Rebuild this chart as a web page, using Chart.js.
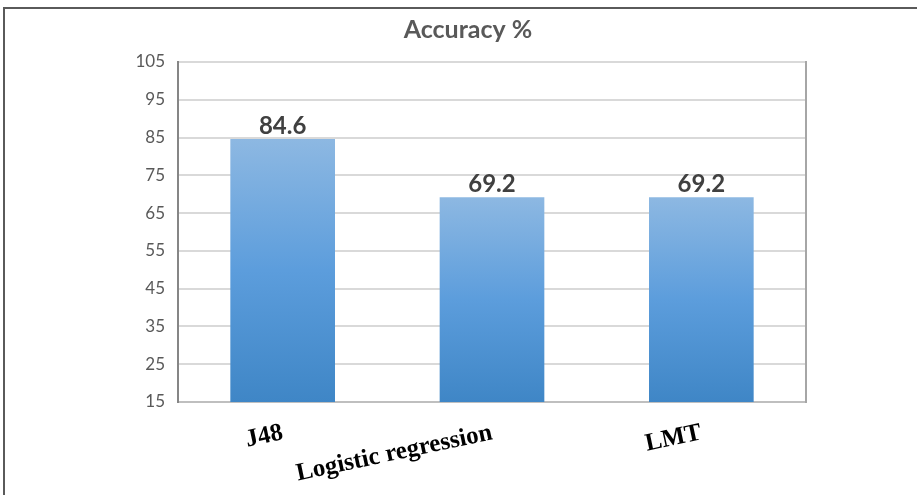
<!DOCTYPE html>
<html>
<head>
<meta charset="utf-8">
<script src="https://cdn.jsdelivr.net/npm/chart.js@4.4.0/dist/chart.umd.min.js"></script>
<style>
  body { margin: 0; background: #fff; }
  #frame { position: absolute; left: 3px; top: 7px; width: 960px; height: 540px; border: 2px solid #5a5a5a; }
  #wrap { position: absolute; left: 0; top: 0; width: 917px; height: 495px; }
</style>
</head>
<body>
<div id="frame"></div>
<div id="wrap"><canvas id="chart" width="917" height="495"></canvas></div>
<script>
// chart data
const categories = ['J48', 'Logistic regression', 'LMT'];
const accuracy = [84.6, 69.2, 69.2];
const yMin = 15;
const yMax = 105;
const yStep = 10;

// value labels above each bar
const valueLabels = {
    id: 'valueLabels',
    afterDatasetsDraw(chart) {
        const ctx = chart.ctx;
        const meta = chart.getDatasetMeta(0);
        ctx.save();
        ctx.font = 'bold 24px Lato';
        ctx.fillStyle = '#404040';
        ctx.textAlign = 'center';
        ctx.textBaseline = 'bottom';
        meta.data.forEach((bar, i) => {
            ctx.fillText(accuracy[i].toFixed(1), bar.x, bar.y - 1);
        });
        ctx.restore();
    }
};

function barFill(context) {
    const chart = context.chart;
    const a = chart.chartArea;
    if (!a) return '#5b9bd5';
    const top = chart.scales.y.getPixelForValue(accuracy[context.dataIndex]);
    const g = chart.ctx.createLinearGradient(0, top, 0, a.bottom);
    g.addColorStop(0, '#8db8e2');
    g.addColorStop(0.5, '#5c9ddc');
    g.addColorStop(1, '#3f86c6');
    return g;
}

new Chart(document.getElementById('chart'), {
    type: 'bar',
    data: {
        labels: categories,
        datasets: [{
            label: 'Accuracy %',
            data: accuracy,
            backgroundColor: barFill,
            borderWidth: 0,
            barPercentage: 0.5,
            categoryPercentage: 1.0
        }]
    },
    options: {
        responsive: false,
        animation: false,
        layout: { padding: { left: 19, right: 0, top: 0, bottom: 0 } },
        plugins: {
            legend: { display: false },
            tooltip: { enabled: false },
            title: {
                display: true,
                text: 'Accuracy %',
                color: '#595959',
                font: { family: 'Lato', size: 25, weight: 'bold' },
                padding: { top: 15, bottom: 17 }
            }
        },
        scales: {
            x: {
                grid: { display: false, drawTicks: false },
                border: { color: '#bfbfbf', width: 2 },
                ticks: {
                    color: '#000',
                    font: { family: 'Liberation Serif', size: 25, weight: 'bold' },
                    minRotation: 12,
                    maxRotation: 12,
                    autoSkip: false,
                    padding: 16
                },
                afterFit(scale) { scale.height = 93; }
            },
            y: {
                min: yMin,
                max: yMax,
                grid: { color: '#d9d9d9', lineWidth: 2, drawTicks: false },
                border: { color: '#868686', width: 2 },
                ticks: {
                    stepSize: yStep,
                    color: '#595959',
                    font: { family: 'Lato', size: 17 },
                    padding: 13
                },
                afterFit(scale) { scale.width = 159; }
            },
            // empty right axis: only its border line, closes the plot area
            yRight: {
                position: 'right',
                min: yMin,
                max: yMax,
                grid: { display: false, drawTicks: false },
                border: { color: '#a6a6a6', width: 2 },
                ticks: { display: false },
                afterFit(scale) { scale.width = 111; }
            }
        }
    },
    plugins: [valueLabels]
});
</script>
</body>
</html>
